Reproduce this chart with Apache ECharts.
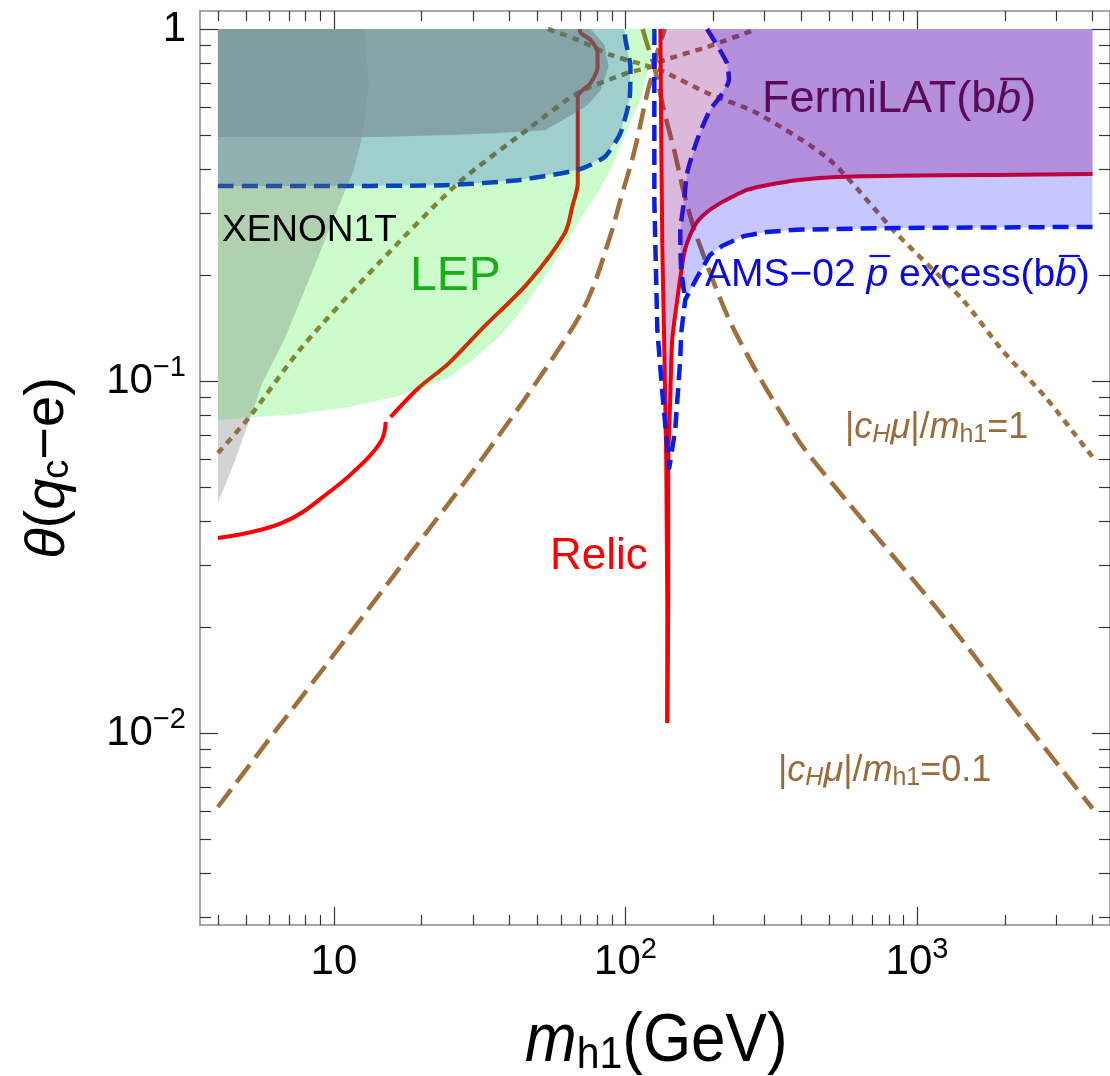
<!DOCTYPE html>
<html><head><meta charset="utf-8">
<script src="https://cdn.jsdelivr.net/npm/echarts@6/dist/echarts.min.js"></script>
<style>html,body{margin:0;padding:0;background:#fff}#c{width:1110px;height:1076px}</style>
</head><body><div id="c"></div>
<script>
const FONT = '"Liberation Sans", Arial, Helvetica, sans-serif';
const lg = Math.log10;

// ---------- axes ----------
const X_RANGE = [3.472, 4592];
const Y_RANGE = [0.002847, 1.1249];
const xMajorTicks = [10, 100, 1000];
const xTickLabels = ['10', '10^2', '10^3'];
const xMinorTicks = [4,5,6,7,8,9,20,30,40,50,60,70,80,90,200,300,400,500,600,700,800,900,2000,3000,4000];
const yMajorTicks = [1, 0.1, 0.01];
const yTickLabels = ['1', '10^-1', '10^-2'];
const yMinorTicks = [0.003,0.004,0.005,0.006,0.007,0.008,0.009,0.02,0.03,0.04,0.05,0.06,0.07,0.08,0.09,0.2,0.3,0.4,0.5,0.6,0.7,0.8,0.9];

// ---------- data: [m_h1 (GeV), theta] ----------
const relicLowMass = [[4.0,0.0358],[6.64,0.0395],[9.84,0.049],[12.86,0.0596],[14.58,0.068],[15.05,0.0765]];
const relicMidMass = [[15.65,0.079],[19.5,0.0955],[24.7,0.112],[32.0,0.14],[46.3,0.19],[61.9,0.263],[65.9,0.316],[68.6,0.365],[68.6,0.641],[75.9,0.702],[80.2,0.78],[80.2,0.855],[75.9,0.931],[70.2,0.974],[69.7,1.0]];
const relicResDown = [[131.7,1.0],[132.7,0.453],[133.8,0.236],[135.9,0.122],[138.0,0.0596],[139.1,0.0239],[139.1,0.01067]];
const relicResUp = [[139.1,0.01067],[140.2,0.0239],[140.2,0.0585],[142.4,0.0883],[144.7,0.131],[150.5,0.17],[159.0,0.231],[166.7,0.260],[176.1,0.283],[190.5,0.302],[206.1,0.316],[231.7,0.333],[260.9,0.349],[305.2,0.360],[386.4,0.372],[529.1,0.380],[847.9,0.383],[1861,0.385],[4000,0.387]];

const lepRegion = [[4,1.0],[126.6,1.0],[120.3,0.78],[112.5,0.629],[104.0,0.544],[88.9,0.398],[80.2,0.342],[74.2,0.312],[61.9,0.243],[52.1,0.194],[42.8,0.154],[36.6,0.133],[30.05,0.115],[24.7,0.102],[16.67,0.0906],[11.25,0.0843],[7.6,0.0806],[4,0.0775]];
const amsLowRegion = [[4,1.0],[99.2,1.0],[100,0.931],[104,0.78],[103.2,0.629],[96.1,0.506],[84.8,0.433],[68.6,0.398],[42.8,0.372],[24.1,0.36],[7.6,0.358],[4,0.358]];
const amsHighRegion = [[190.5,1.0],[4000,1.0],[4000,0.274],[847.9,0.272],[386.4,0.269],[305.2,0.265],[254.7,0.258],[214.3,0.2417],[195,0.228],[176.1,0.197],[160.3,0.17],[155.3,0.207],[154.1,0.263],[159,0.327],[162.8,0.39],[176.1,0.484],[195,0.589],[211,0.641],[226.4,0.716],[222.9,0.80]];
const xenonWedge = [[4,0.493],[12.5,0.493],[11.7,0.398],[10.16,0.30],[8.21,0.194],[6.75,0.131],[5.68,0.0987],[5.13,0.0775],[4.56,0.0589],[4,0.045]];
const xenonWedgeTop = [[4,1.0],[12.66,1.0],[13.17,0.702],[12.5,0.493],[4,0.493]];
const xenonBand = [[4,1.0],[75.9,1.0],[84.8,0.901],[87.5,0.78],[82.2,0.671],[74.2,0.608],[67,0.577],[52.9,0.516],[36.6,0.506],[24.7,0.5],[14.24,0.493],[4,0.493]];

const amsLowEdge = [[4,0.358],[7.6,0.358],[24.1,0.36],[42.8,0.372],[68.6,0.398],[84.8,0.433],[96.1,0.506],[103.2,0.629],[104,0.78],[100,0.931],[99.2,1.0]];
const amsSpikeEdge = [[125.6,1.0],[125.6,0.327],[128.6,0.14],[133.8,0.0924],[141.3,0.0566],[148.1,0.0726],[154.1,0.115],[155.3,0.137],[160.3,0.17],[176.1,0.197],[195,0.228],[214.3,0.2417],[254.7,0.258],[305.2,0.265],[386.4,0.269],[847.9,0.272],[4000,0.274]];
const amsHighEdge = [[190.5,1.0],[222.9,0.80],[226.4,0.716],[211,0.641],[195,0.589],[176.1,0.484],[162.8,0.39],[159,0.327],[154.1,0.263],[155.3,0.207],[160.3,0.17]];

const cmu1Lower = [[4,0.0624],[5.13,0.079],[7.78,0.125],[14.24,0.216],[26.7,0.365],[47.4,0.527],[68.6,0.658],[101.6,0.75],[121.7,0.78],[135.9,0.816],[190.5,0.889],[275.6,0.993],[282.2,1.0]];
const cmu1Upper = [[54.2,1.0],[68.6,0.931],[88.9,0.844],[116.1,0.79],[135.9,0.755],[190.5,0.658],[282.2,0.577],[500.8,0.425],[847.9,0.263],[1435,0.17],[1966,0.122],[2756,0.090],[4000,0.0608]];
const cmu01Lower = [[4,0.00616],[6.34,0.0102],[7.78,0.0127],[19.05,0.0338],[33.3,0.0624],[58.6,0.122],[74.2,0.17],[88.9,0.26],[96.1,0.327],[107.3,0.45],[118.9,0.66],[125.6,0.78],[128.6,0.859],[136.5,1.0]];
const cmu01Upper = [[114.5,1.0],[120.3,0.872],[125.6,0.78],[135.9,0.581],[146.9,0.453],[160.3,0.331],[176.1,0.255],[235.5,0.14],[386.4,0.069],[572.3,0.0458],[1256,0.021],[2412,0.0104],[4000,0.0061]];

// ---------- colours ----------
const BROWN = '#a0703c', RED = '#ff0000', BLUE = '#0a1ee6';

const toXY = pts => pts.map(p => [lg(p[0]), lg(p[1])]);

function lineSeries(pts, color, width, dash, smooth) {
  return { type:'line', data: toXY(pts), showSymbol:false, symbol:'none', smooth: smooth || false,
    lineStyle:{ color, width, type: dash, cap:'butt', join:'round' }, silent:true, z:2, clip:true, animation:false };
}
function polygonSeries(pts, fill, z) {
  return { type:'custom', coordinateSystem:'cartesian2d', data: toXY(pts), silent:true, z, clip:true, animation:false,
    renderItem(params, api) {
      if (params.dataIndex !== 0) return null;
      const points = pts.map(p => api.coord([lg(p[0]), lg(p[1])]));
      return { type:'polygon', shape:{ points }, style:{ fill, stroke:null } };
    } };
}

const RICH_TICK = {
  n: { fontSize:42, fontFamily:FONT, color:'#000', lineHeight:55 },
  sup: { fontSize:29, fontFamily:FONT, color:'#000', padding:[0,0,26,0] }
};
function tickText(labels, values, v) {
  for (let i = 0; i < values.length; i++) {
    if (Math.abs(lg(values[i]) - v) < 1e-6) {
      const parts = labels[i].split('^');
      return parts.length > 1 ? '{n|' + parts[0] + '}{sup|' + parts[1].replace('-', '\u2212') + '}' : '{n|' + parts[0] + '}';
    }
  }
  return '';
}
function makeAxis(dim, pos, values, len, showLine, labels, margin) {
  const R = dim === 'x' ? X_RANGE : Y_RANGE;
  return {
    type:'value', position:pos, min:lg(R[0]), max:lg(R[1]), gridIndex:0,
    axisLine:{ show:showLine, onZero:false, lineStyle:{ color:'#8c8c8c', width:1.6 } },
    axisTick:{ show:true, inside:true, length:len, customValues: values.map(lg), lineStyle:{ color:'#333', width:1.2 } },
    axisLabel: labels ? { show:true, customValues: values.map(lg), margin, formatter: v => tickText(labels, values, v), rich: RICH_TICK } : { show:false },
    splitLine:{ show:false }, axisPointer:{ show:false }
  };
}

// ---------- text helpers ----------
const mctx = document.createElement('canvas').getContext('2d');
function tw(txt, size, italic) { mctx.font = (italic ? 'italic ' : '') + size + 'px ' + FONT; return mctx.measureText(txt).width; }
function rs(size, color, italic, pad) { return { fontSize:size, fontFamily:FONT, fill:color, fontStyle: italic ? 'italic' : 'normal', padding: pad || 0 }; }

const LAB_C = '#9a6a38';
const fermiX = 762, fermiY = 100, fermiFS = 45, fermiC = '#5a0a5a';
const amsX = 705, amsY = 275, amsFS = 39, amsC = '#0a0ae0';
const fb0 = fermiX + tw('FermiLAT(b', fermiFS), fbw = tw('b', fermiFS, true);
const ap0 = amsX + tw('AMS\u221202 ', amsFS), apw = tw('p', amsFS, true);
const ab0 = ap0 + apw + tw(' excess(b', amsFS), abw = tw('b', amsFS, true);

const graphic = [
  { type:'text', x:222, y:231, z:100, style:{ text:'XENON1T', fontSize:37, fontFamily:FONT, fill:'#000', align:'left', verticalAlign:'middle' } },
  { type:'text', x:410, y:277, z:100, style:{ text:'LEP', fontSize:48, fontFamily:FONT, fill:'#1aaf1a', align:'left', verticalAlign:'middle' } },
  { type:'text', x:fermiX, y:fermiY, z:100, style:{ text:'{a|FermiLAT(b}{b|b}{a|)}', align:'left', verticalAlign:'middle',
      rich:{ a: rs(fermiFS, fermiC), b: rs(fermiFS, fermiC, true) } } },
  { type:'line', z:100, shape:{ x1:fb0 + 4, y1:fermiY - 21, x2:fb0 + fbw + 3, y2:fermiY - 21 }, style:{ stroke:fermiC, lineWidth:2.5 } },
  { type:'text', x:amsX, y:amsY, z:100, style:{ text:'{a|AMS\u221202 }{b|p}{a| excess(b}{b|b}{a|)}', align:'left', verticalAlign:'middle',
      rich:{ a: rs(amsFS, amsC), b: rs(amsFS, amsC, true) } } },
  { type:'line', z:100, shape:{ x1:ap0 + 3, y1:amsY - 19, x2:ap0 + apw + 2, y2:amsY - 19 }, style:{ stroke:amsC, lineWidth:2.2 } },
  { type:'line', z:100, shape:{ x1:ab0 + 4, y1:amsY - 19, x2:ab0 + abw + 3, y2:amsY - 19 }, style:{ stroke:amsC, lineWidth:2.2 } },
  { type:'text', x:550, y:557, z:100, style:{ text:'Relic', fontSize:44, fontFamily:FONT, fill:RED, align:'left', verticalAlign:'middle' } },
  { type:'text', x:845, y:428, z:100, style:{ text:'{a||}{i|c}{s|H}{i|\u03bc}{a||/}{i|m}{t|h1}{a|=1}', align:'left', verticalAlign:'middle',
      rich:{ a: rs(36, LAB_C), i: rs(36, LAB_C, true), s: rs(25, LAB_C, true, [14,0,0,0]), t: rs(25, LAB_C, false, [14,0,0,0]) } } },
  { type:'text', x:778, y:771, z:100, style:{ text:'{a||}{i|c}{s|H}{i|\u03bc}{a||/}{i|m}{t|h1}{a|=0.1}', align:'left', verticalAlign:'middle',
      rich:{ a: rs(36, LAB_C), i: rs(36, LAB_C, true), s: rs(25, LAB_C, true, [14,0,0,0]), t: rs(25, LAB_C, false, [14,0,0,0]) } } },
  { type:'text', x:525, y:1042, scaleY:1.1, z:100, style:{ text:'{i|m}{s|h1}{a|(GeV)}', align:'left', verticalAlign:'middle',
      rich:{ i: rs(62, '#000', true), s: rs(41, '#000', false, [24,0,0,0]), a: rs(62, '#000') } } },
  { type:'text', x:48, y:468, rotation:Math.PI / 2, z:100, style:{ text:'{i|\u03b8}{a|(}{i|q}{s|c}{a|\u2212e)}', align:'center', verticalAlign:'middle',
      rich:{ i: rs(56, '#000', true), a: rs(56, '#000'), s: rs(38, '#000', false, [20,0,0,0]) } } }
];

const option = {
  animation:false,
  backgroundColor:'#ffffff',
  textStyle:{ fontFamily:FONT },
  grid:{ left:200, right:-5, top:11, bottom:151, containLabel:false },
  xAxis:[
    makeAxis('x', 'bottom', xMajorTicks, 18, true, xTickLabels, 10),
    makeAxis('x', 'bottom', xMinorTicks, 10, false, null),
    makeAxis('x', 'top', xMajorTicks, 18, true, null),
    makeAxis('x', 'top', xMinorTicks, 10, false, null)
  ],
  yAxis:[
    makeAxis('y', 'left', yMajorTicks, 18, true, yTickLabels, 14),
    makeAxis('y', 'left', yMinorTicks, 11, false, null),
    makeAxis('y', 'right', yMajorTicks, 18, true, null),
    makeAxis('y', 'right', yMinorTicks, 11, false, null)
  ],
  series:[
    lineSeries(cmu1Lower, BROWN, 4.5, [7,6], 0.25),
    lineSeries(cmu1Upper, BROWN, 4.5, [7,6], 0.25),
    lineSeries(cmu01Lower, BROWN, 4.5, [22,9], 0.35),
    lineSeries(cmu01Upper, BROWN, 4.5, [22,9], 0.3),
    lineSeries(relicLowMass, RED, 4, 'solid', 0.4),
    lineSeries(relicMidMass, RED, 4, 'solid', 0.3),
    lineSeries(relicResDown, RED, 4, 'solid', 0),
    lineSeries(relicResUp, RED, 4, 'solid', 0.2),
    lineSeries(amsLowEdge, BLUE, 4.5, [16,8], 0.2),
    lineSeries(amsSpikeEdge, BLUE, 4.5, [16,8], 0),
    lineSeries(amsHighEdge, BLUE, 4.5, [16,8], 0.2),
    polygonSeries(amsLowRegion, 'rgba(0,0,255,0.22)', 3),
    polygonSeries(amsHighRegion, 'rgba(0,0,255,0.22)', 3),
    polygonSeries(lepRegion, 'rgba(0,240,0,0.2)', 4),
    polygonSeries(relicResDown.concat(relicResUp.slice(1), [[4000,1.0]]), 'rgba(128,0,128,0.28)', 5),
    polygonSeries(xenonWedge, 'rgba(110,110,110,0.3)', 6),
    polygonSeries(xenonBand, 'rgba(100,110,120,0.45)', 7),
    polygonSeries(xenonWedgeTop, 'rgba(90,90,90,0.07)', 8)
  ],
  graphic
};

const chart = echarts.init(document.getElementById('c'), null, { renderer:'canvas' });
chart.setOption(option);
</script>
</body></html>
